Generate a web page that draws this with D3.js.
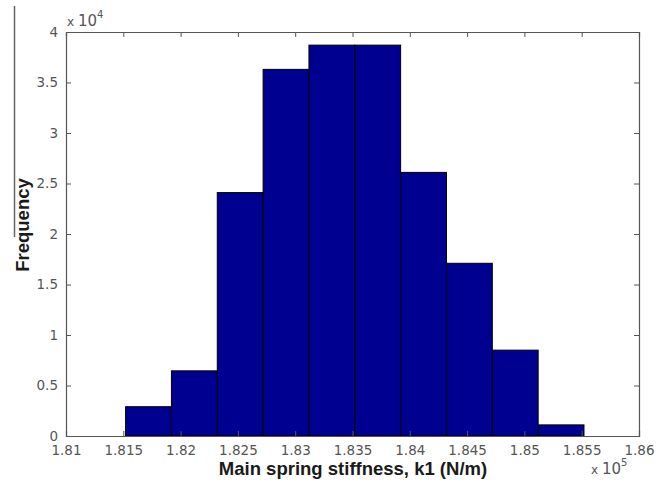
<!DOCTYPE html>
<html>
<head>
<meta charset="utf-8">
<script src="https://cdn.jsdelivr.net/npm/d3@7"></script>
<style>
  body { margin: 0; background: #fff; }
  .tick text { font-family: "DejaVu Sans", sans-serif; font-size: 13.5px; fill: #555; }
</style>
</head>
<body>
<div id="chart"></div>
<script>
// histogram bins (x1e5) and counts
var binEdges = [1.8152, 1.8192, 1.8232, 1.8272, 1.8312, 1.8352, 1.8392, 1.8432, 1.8472, 1.8512, 1.8552];
var counts = [2900, 6450, 24100, 36300, 38700, 38700, 26100, 17100, 8500, 1100];
var xTicks = [1.81, 1.815, 1.82, 1.825, 1.83, 1.835, 1.84, 1.845, 1.85, 1.855, 1.86];
var yTicks = [0, 0.5, 1, 1.5, 2, 2.5, 3, 3.5, 4];

var svgWidth = 666, svgHeight = 483;
var margin = {top: 32, right: 27, bottom: 47, left: 66};
var width = svgWidth - margin.left - margin.right;
var height = svgHeight - margin.top - margin.bottom;

var svg = d3.select("#chart").append("svg")
  .attr("width", svgWidth)
  .attr("height", svgHeight);

// stray line on the left edge
svg.append("line")
  .attr("x1", 14.5).attr("x2", 14.5)
  .attr("y1", 6).attr("y2", 237)
  .attr("stroke", "#666").attr("stroke-width", 1.5);

var chartGroup = svg.append("g")
  .attr("transform", `translate(${margin.left}, ${margin.top})`);

var x = d3.scaleLinear().domain([1.81, 1.86]).range([0, width]);
var y = d3.scaleLinear().domain([0, 4]).range([height, 0]);

var bins = counts.map(function(c, i) {
  return {x0: binEdges[i], x1: binEdges[i + 1], count: c / 1e4};
});

chartGroup.selectAll("rect.bar")
  .data(bins)
  .enter()
  .append("rect")
  .attr("class", "bar")
  .attr("x", d => x(d.x0))
  .attr("width", d => x(d.x1) - x(d.x0))
  .attr("y", d => y(d.count))
  .attr("height", d => height - y(d.count))
  .attr("fill", "#000090")
  .attr("stroke", "#000")
  .attr("stroke-width", 1);

// axes with inward ticks
var bottomAxis = d3.axisBottom(x).tickValues(xTicks).tickSize(-5).tickPadding(9).tickFormat(d => +d.toFixed(3));
var topAxis = d3.axisTop(x).tickValues(xTicks).tickSize(-5).tickFormat("");
var leftAxis = d3.axisLeft(y).tickValues(yTicks).tickSize(-5).tickPadding(8).tickFormat(d => d);
var rightAxis = d3.axisRight(y).tickValues(yTicks).tickSize(-5).tickFormat("");

function styleAxis(g) {
  g.select(".domain").attr("stroke", "#555").attr("stroke-width", 1.2);
  g.selectAll(".tick line").attr("stroke", "#555");
}

chartGroup.append("g").attr("transform", `translate(0, ${height})`).call(bottomAxis).call(styleAxis);
chartGroup.append("g").call(topAxis).call(styleAxis);
chartGroup.append("g").call(leftAxis).call(styleAxis);
chartGroup.append("g").attr("transform", `translate(${width}, 0)`).call(rightAxis).call(styleAxis);

// exponent labels
var expY = svg.append("text")
  .attr("x", margin.left + 1)
  .attr("y", margin.top - 6)
  .style("font-family", "DejaVu Sans, sans-serif")
  .style("fill", "#555");
expY.append("tspan").style("font-size", "12px").text("x ");
expY.append("tspan").style("font-size", "15px").text("10");
expY.append("tspan").attr("dy", -8).style("font-size", "10px").text("4");

var expX = svg.append("text")
  .attr("x", 591)
  .attr("y", 474)
  .style("font-family", "DejaVu Sans, sans-serif")
  .style("fill", "#555");
expX.append("tspan").style("font-size", "12px").text("x ");
expX.append("tspan").style("font-size", "15px").text("10");
expX.append("tspan").attr("dy", -8).style("font-size", "10px").text("5");

// axis labels
svg.append("text")
  .attr("x", 353)
  .attr("y", 475)
  .style("text-anchor", "middle")
  .style("font-family", "Liberation Sans, Arial, sans-serif")
  .style("font-size", "18.5px")
  .style("font-weight", "bold")
  .style("fill", "#1a1a1a")
  .text("Main spring stiffness, k1 (N/m)");

svg.append("text")
  .attr("transform", "translate(29, 225) rotate(-90)")
  .style("text-anchor", "middle")
  .style("font-family", "Liberation Sans, Arial, sans-serif")
  .style("font-size", "18.5px")
  .style("font-weight", "bold")
  .style("fill", "#1a1a1a")
  .text("Frequency");
</script>
</body>
</html>
